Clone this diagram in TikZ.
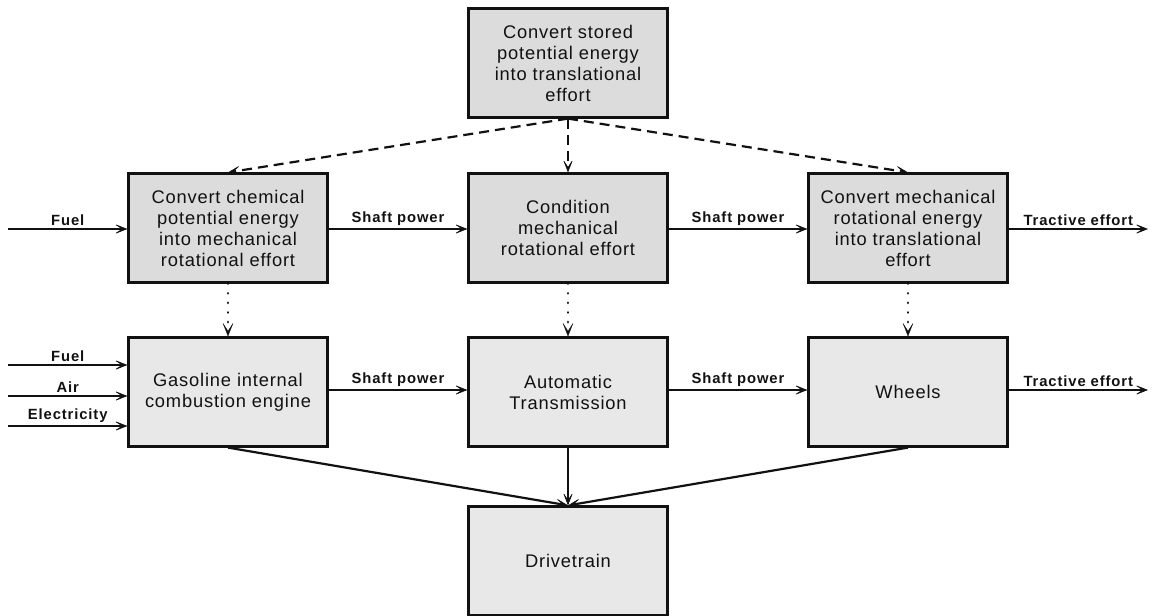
\documentclass[tikz,border=0pt]{standalone}
\usepackage{fontspec}
\setmainfont{Liberation Sans}
\usetikzlibrary{arrows.meta}
\definecolor{fillA}{RGB}{220,220,220}
\definecolor{fillB}{RGB}{232,232,232}
\definecolor{ink}{RGB}{17,17,17}
\newfontfamily\boxfont[LetterSpace=4.5]{Liberation Sans}
\newfontfamily\lblfont[LetterSpace=6]{Liberation Sans Bold}
\begin{document}
\begin{tikzpicture}[x=1pt,y=-1pt,
  blk/.style={draw=ink, line width=2.2pt, minimum width=199pt, minimum height=109pt,
    inner sep=0pt, align=center, text=ink, font=\boxfont\fontsize{18.3}{21}\selectfont},
  funcbox/.style={blk, fill=fillA},
  physbox/.style={blk, fill=fillB},
  tip/.style={-{Stealth[length=14pt,width=11pt,inset=8.5pt,line width=0.6pt]}},
  flow/.style={tip, line width=2.2pt, draw=ink},
  dashflow/.style={flow, dash pattern=on 10pt off 6pt},
  dotflow/.style={flow, line cap=round, dash pattern=on 0.1pt off 9.5pt, line width=2.8pt,
    -{Stealth[length=14pt,width=11pt,inset=8.5pt,line width=0.2pt]}},
  lbl/.style={above, inner sep=2.5pt, text=ink, font=\lblfont\fontsize{14.8}{16}\selectfont}]
\useasboundingbox (0,0) rectangle (1152,616);

% function level
\node[funcbox] (store) at (568,63) {Convert stored\\potential energy\\into translational\\effort};
\node[funcbox] (chem) at (228,228) {Convert chemical\\potential energy\\into mechanical\\rotational effort};
\node[funcbox] (cond) at (568,228) {Condition\\mechanical\\rotational effort};
\node[funcbox] (mech) at (908,228) {Convert mechanical\\rotational energy\\into translational\\effort};

% physical level
\node[physbox] (engine) at (228,392) {Gasoline internal\\combustion engine};
\node[physbox] (trans) at (568,392) {Automatic\\Transmission};
\node[physbox] (wheels) at (908,392) {Wheels};
\node[physbox] (drive) at (568,561) {Drivetrain};

% free ends of the external flows
\coordinate (fuelA) at (8,229);
\coordinate (tracA) at (1148,229);
\coordinate (fuelB) at (8,365);
\coordinate (airB) at (8,396);
\coordinate (elecB) at (8,426);
\coordinate (tracB) at (1148,390);

% function-level flows
\draw[flow] (fuelA) -- node[lbl]{Fuel} (chem.west |- fuelA);
\draw[flow] (chem.east |- fuelA) -- node[lbl]{Shaft power} (cond.west |- fuelA);
\draw[flow] (cond.east |- fuelA) -- node[lbl]{Shaft power} (mech.west |- fuelA);
\draw[flow] (mech.east |- tracA) -- node[lbl]{Tractive effort} (tracA);

% physical-level flows
\draw[flow] (fuelB) -- node[lbl]{Fuel} (engine.west |- fuelB);
\draw[flow] (airB) -- node[lbl]{Air} (engine.west |- airB);
\draw[flow] (elecB) -- node[lbl]{Electricity} (engine.west |- elecB);
\draw[flow] (engine.east |- tracB) -- node[lbl]{Shaft power} (trans.west |- tracB);
\draw[flow] (trans.east |- tracB) -- node[lbl]{Shaft power} (wheels.west |- tracB);
\draw[flow] (wheels.east |- tracB) -- node[lbl]{Tractive effort} (tracB);

% decomposition of the top function
\draw[dashflow] (store.south) -- (chem.north);
\draw[dashflow] (store.south) -- (cond.north);
\draw[dashflow] (store.south) -- (mech.north);

% functions realised by components
\draw[dotflow] (chem.south) -- (engine.north);
\draw[dotflow] (cond.south) -- (trans.north);
\draw[dotflow] (mech.south) -- (wheels.north);

% components forming the drivetrain
\draw[flow] (engine.south) -- (drive.north);
\draw[flow] (trans.south) -- (drive.north);
\draw[flow] (wheels.south) -- (drive.north);
\end{tikzpicture}
\end{document}
